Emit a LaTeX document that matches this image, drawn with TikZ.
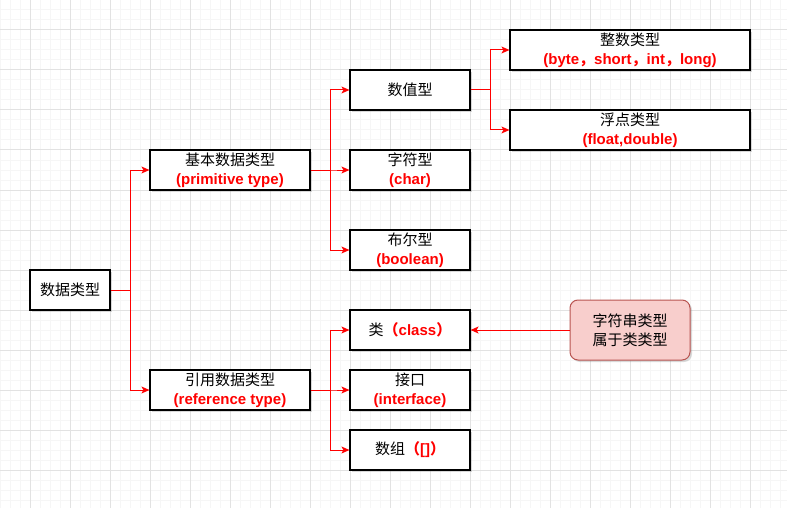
\documentclass[tikz,border=0pt]{standalone}
\usepackage{fontspec}
\setmainfont{Liberation Sans}
\newfontfamily\cjk{Noto Sans CJK SC}
\usepackage{xcolor}
\usetikzlibrary{arrows.meta, shadows}
\definecolor{notefill}{HTML}{F8CECC}
\definecolor{noteline}{HTML}{B85450}
\definecolor{gridminor}{HTML}{F6F6F6}
\definecolor{gridmajor}{HTML}{E2E2E2}
\newcommand{\zh}[1]{{\cjk #1}}
\newcommand{\rd}[1]{{\color{red}\bfseries #1}}

\begin{document}
\begin{tikzpicture}[
  x=1pt, y=-1pt,
  font=\fontsize{15}{19}\selectfont,
  box/.style={draw, line width=1.2pt, fill=white, align=center, inner sep=0pt,
    minimum height=40pt, minimum width=120pt,
    drop shadow={shadow xshift=2pt, shadow yshift=-2pt, opacity=0.3}},
  pair/.style={box, execute at begin node={\vspace*{5pt}}},
  notebox/.style={box, draw=noteline, fill=notefill, rounded corners=8pt,
    line width=1pt, minimum height=60pt},
  link/.style={red, line width=1pt, -{Stealth[length=8pt, width=7pt, inset=2pt]}}
]
  \useasboundingbox (0,0) rectangle (787,508);
  % grid
  \foreach \gx in {0,10,...,780} \draw[gridminor, line width=1pt] (\gx,0) -- (\gx,508);
  \foreach \gy in {0,10,...,500} \draw[gridminor, line width=1pt] (0,\gy) -- (787,\gy);
  \foreach \gx in {30,70,...,750} \draw[gridmajor, line width=1pt] (\gx,0) -- (\gx,508);
  \foreach \gy in {30,70,...,470} \draw[gridmajor, line width=1pt] (0,\gy) -- (787,\gy);
  % boxes
  \node[box, minimum width=80pt]   (root)  at (70,290)  {\zh{数据类型}};
  \node[pair, minimum width=160pt] (basic) at (230,170) {\zh{基本数据类型}\\\rd{(primitive type)}};
  \node[pair, minimum width=160pt] (ref)   at (230,390) {\zh{引用数据类型}\\\rd{(reference type)}};
  \node[box]  (num)   at (410,90)  {\zh{数值型}};
  \node[pair] (chr)   at (410,170) {\zh{字符型}\\\rd{(char)}};
  \node[pair] (bool)  at (410,250) {\zh{布尔型}\\\rd{(boolean)}};
  \node[pair, minimum width=240pt] (int) at (630,50)  {\zh{整数类型}\\\rd{(byte\zh{，}short\zh{，}int\zh{，}long)}};
  \node[pair, minimum width=240pt] (flt) at (630,130) {\zh{浮点类型}\\\rd{(float,double)}};
  \node[box]  (cls)   at (410,330) {\zh{类}\rd{\zh{（}class\zh{）}}};
  \node[pair] (iface) at (410,390) {\zh{接口}\\\rd{(interface)}};
  \node[box]  (arr)   at (410,450) {\zh{数组}\rd{\zh{（}[]\zh{）}}};
  \node[notebox] (note) at (630,330) {\zh{字符串类型}\\\zh{属于类类型}};
  % connectors
  \draw[link] (root.east) -- ++(20,0) |- (basic.west);
  \draw[link] (root.east) -- ++(20,0) |- (ref.west);
  \draw[link] (basic.east) -- ++(20,0) |- (num.west);
  \draw[link] (basic.east) -- ++(20,0) |- (chr.west);
  \draw[link] (basic.east) -- ++(20,0) |- (bool.west);
  \draw[link] (num.east) -- ++(20,0) |- (int.west);
  \draw[link] (num.east) -- ++(20,0) |- (flt.west);
  \draw[link] (ref.east) -- ++(20,0) |- (cls.west);
  \draw[link] (ref.east) -- ++(20,0) |- (iface.west);
  \draw[link] (ref.east) -- ++(20,0) |- (arr.west);
  \draw[link] (note.west) -- (cls.east);
\end{tikzpicture}
\end{document}
